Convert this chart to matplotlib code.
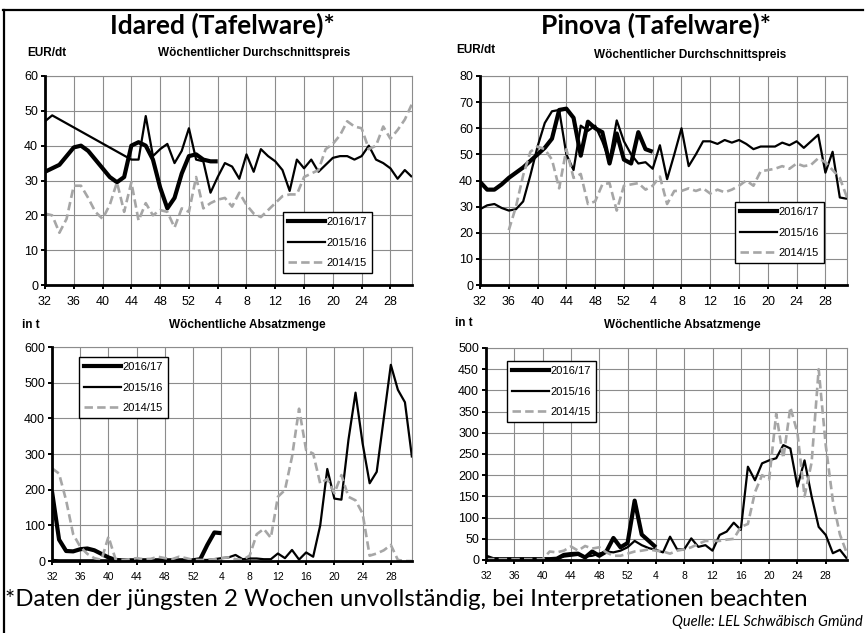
import numpy as np
import matplotlib
matplotlib.use("Agg")
import matplotlib.pyplot as plt
from matplotlib.lines import Line2D

# --- data -----------------------------------------------------------------
weeks = list(range(32, 53)) + list(range(1, 32))          # KW 32 ... KW 31
N = None

idared_price_1617 = [32.5, 33.5, 34.5, 37, 39.5, 40, 38.5, 36, 33.5, 31, 29.5, 31, 40, 41,
                     40, 36, 28, 22, 25, 32, 37, 37.5, 36, 35.5, 35.5]
idared_price_1516 = [47, 48.7, N, N, N, N, N, N, N, N, N, N, 36, 36, 48.5, 37, 39, 40.5, 35,
                     38.5, 45, 36, 35.5, 26.5, 31, 35, 34, 30.5, 37.5, 32.5, 39, 37, 35.5, 33,
                     27, 36, 33.5, 36, 32.5, 34.5, 36.5, 37, 37, 36, 37, 40, 36, 35, 33.5,
                     30.5, 33, 31]
idared_price_1415 = [20.5, 20, 15, 19, 28.5, 28.5, 25, 21, 19, 23, 29.5, 21, 29.5, 18.5, 23.5,
                     20, 21.5, 21, 16.5, 22, 21, 31, 22, 23.5, 24.5, 25, 22.5, 26.5, 23, 20.5,
                     19.5, 21.5, 23.5, 25.5, 26, 26, 31, 32, 33, 39, 40.5, 43, 47, 45.5, 45,
                     39, 40, 45.5, 42, 44.5, 47.5, 52]

pinova_price_1617 = [39.5, 36.5, 36.5, 38.5, 41, 43, 45, 47.5, 50, 52.5, 56, 67, 67.5, 64,
                     49.5, 62.5, 60, 58.5, 46.5, 58, 48, 46.5, 58.5, 52, 51]
pinova_price_1516 = [29, 30.5, 31, 29.5, 28.5, 29, 32, 42, 53, 62, 66.5, 67, 50, 44, 61, 59,
                     61, 55, 47.5, 63, 55, 50, 46.5, 47, 44.5, 53.5, 40.5, 50, 60, 45.5, 50,
                     55, 55, 54, 55.5, 54.5, 55.5, 54, 52, 53, 53, 53, 54.5, 53.5, 55, 52.5,
                     55, 57.5, 43, 51, 33.5, 33]
pinova_price_1415 = [N, N, N, N, 21, 30, 42, 51, 53, 52, 48, 37, 52, 41, 42.5, 31, 32, 38.5,
                     39, 28.5, 38, 38.5, 39, 36.5, 38, 41.5, 31, 36, 36, 37, 36, 37, 35, 36.5,
                     35.5, 36.5, 38, 40, 38, 43.5, 44, 44.5, 45.5, 44.5, 46.5, 45.5, 46, 48.5,
                     47, 44, 41, 33.5]

idared_qty_1617 = [195, 60, 28, 27, 33, 35, 30, 20, 10, 3, 2, 2, 2, 2, 2, 2, 2, 2, 2, 2, 2,
                   5, 45, 80, 78]
idared_qty_1516 = [3, 2, 2, 2, 2, 2, 2, 2, 2, 2, 2, 2, 2, 2, 2, 2, 2, 2, 2, 2, 2, 3, 3, 5, 8,
                   10, 17, 5, 7, 7, 5, 5, 21, 8, 31, 4, 24, 12, 100, 258, 175, 172, 340, 472,
                   330, 218, 250, 400, 550, 480, 445, 290]
idared_qty_1415 = [260, 245, 170, 75, 40, 20, 8, 3, 68, 5, 3, 5, 8, 5, 6, 12, 8, 5, 12, 8, 3,
                   3, 3, 5, 8, 10, 5, 3, 15, 75, 90, 65, 180, 199, 292, 427, 311, 301, 217,
                   230, 190, 241, 180, 170, 133, 15, 21, 30, 45, 3, 0, 0]

pinova_qty_1617 = [8, 2, 2, 2, 2, 2, 2, 2, 2, 2, 3, 12, 14, 15, 6, 20, 10, 20, 52, 30, 40,
                   140, 60, 45, 30]
pinova_qty_1516 = [2, 2, 2, 2, 2, 2, 2, 2, 2, 2, 3, 8, 10, 12, 8, 10, 15, 20, 18, 22, 30, 45,
                   35, 28, 24, 18, 55, 25, 25, 51, 31, 35, 22, 59, 67, 88, 71, 220, 188, 228,
                   235, 240, 271, 263, 173, 235, 150, 78, 59, 16, 24, 3]
pinova_qty_1415 = [2, 2, 2, 2, 2, 2, 2, 2, 2, 20, 18, 22, 32, 22, 33, 27, 30, 18, 10, 10, 15,
                   20, 22, 25, 22, 20, 15, 22, 25, 30, 38, 45, 45, 45, 48, 50, 78, 85, 160,
                   200, 190, 345, 240, 360, 300, 150, 230, 450, 270, 140, 60, 15]

labels = ["2016/17", "2015/16", "2014/15"]

# --- styles ------------------------------------------------------------------
GREY = "#a6a6a6"
STY = [dict(color="black", lw=3.0),
       dict(color="black", lw=1.6),
       dict(color=GREY, lw=1.9, dashes=(3.2, 1.6))]
W, H = 866, 633


def rect(l, t, r, b):
    return [l / W, 1 - b / H, (r - l) / W, (b - t) / H]


def panel(box, series, ymax, ystep, leg_xy, xfs):
    ax = fig.add_axes(rect(*box))
    x = np.arange(len(weeks))
    for vals, st in zip(series, STY):
        y = np.array([np.nan if v is None else v for v in vals], dtype=float)
        m = ~np.isnan(y)
        ax.plot(x[:len(y)][m], y[m], solid_joinstyle="round", solid_capstyle="butt", **st)
    ax.set_xlim(0, len(weeks) - 1)
    ax.set_ylim(0, ymax)
    ax.set_xticks(x[::4])
    ax.set_xticklabels(weeks[::4], fontsize=xfs, family="Liberation Sans")
    ax.set_yticks(np.arange(0, ymax + 1, ystep))
    ax.tick_params(axis="y", labelsize=9, direction="out", length=3, width=1.4, pad=2)
    ax.tick_params(axis="x", direction="out", length=3, width=1.4, pad=5)
    for t in ax.get_yticklabels():
        t.set_family("Liberation Sans")
    ax.grid(True, color="#8c8c8c", lw=0.8)
    ax.set_axisbelow(True)
    for s in ("left", "bottom"):
        ax.spines[s].set_linewidth(2.0)
        ax.spines[s].set_zorder(5)
    for s in ("top", "right"):
        ax.spines[s].set_color("#8c8c8c")
        ax.spines[s].set_linewidth(0.8)
    handles = [Line2D([], [], **st) for st in STY]
    leg = ax.legend(handles, labels, loc="upper left",
                    bbox_to_anchor=(leg_xy[0] / W, 1 - leg_xy[1] / H),
                    bbox_transform=fig.transFigure, fancybox=False, framealpha=1,
                    edgecolor="black", prop={"family": "Liberation Sans", "size": 8},
                    handlelength=3.3, handletextpad=0.15, labelspacing=0.95,
                    borderpad=0.45, borderaxespad=0)
    leg.get_frame().set_linewidth(1.0)
    return ax


fig = plt.figure(figsize=(W / 100, H / 100), dpi=100)

panel((45, 76, 412, 285), [idared_price_1617, idared_price_1516, idared_price_1415],
      60, 10, (283, 212), 9)
panel((480, 76, 847, 285), [pinova_price_1617, pinova_price_1516, pinova_price_1415],
      80, 10, (735, 202), 9)
panel((52, 347, 412, 561), [idared_qty_1617, idared_qty_1516, idared_qty_1415],
      600, 100, (79, 357), 7.5)
panel((486, 348, 847, 560), [pinova_qty_1617, pinova_qty_1516, pinova_qty_1415],
      500, 50, (507, 361), 7.5)

# --- texts -------------------------------------------------------------------
def ftext(x, y, s, **kw):
    fig.text(x / W, 1 - y / H, s, va="center", **kw)


ftext(222, 25, "Idared (Tafelware)*", ha="center", fontsize=19, fontweight="bold", family="Lato")
ftext(656, 25, "Pinova (Tafelware)*", ha="center", fontsize=19, fontweight="bold", family="Lato")
sub = dict(fontsize=8.5, fontweight="bold", family="Liberation Sans")
ftext(27, 53, "EUR/dt", ha="left", **sub)
ftext(254, 53, "Wöchentlicher Durchschnittspreis", ha="center", **sub)
ftext(456, 50, "EUR/dt", ha="left", **sub)
ftext(690, 55, "Wöchentlicher Durchschnittspreis", ha="center", **sub)
ftext(22, 325, "in t", ha="left", **sub)
ftext(247, 325, "Wöchentliche Absatzmenge", ha="center", **sub)
ftext(455, 323, "in t", ha="left", **sub)
ftext(682, 325, "Wöchentliche Absatzmenge", ha="center", **sub)

ftext(5, 600, "*Daten der jüngsten 2 Wochen unvollständig, bei Interpretationen beachten",
      ha="left", fontsize=17.3, family="Lato")
ftext(863, 622, "Quelle: LEL Schwäbisch Gmünd", ha="right", fontsize=10.5, family="Lato",
      style="italic")

# outer frame (top and left edge)
fig.add_artist(Line2D([3 / W, 863 / W], [1 - 10 / H] * 2, color="black", lw=1.6))
fig.add_artist(Line2D([4 / W] * 2, [1 - 10 / H, 0], color="black", lw=1.6))

fig.savefig("out.png", dpi=100)
